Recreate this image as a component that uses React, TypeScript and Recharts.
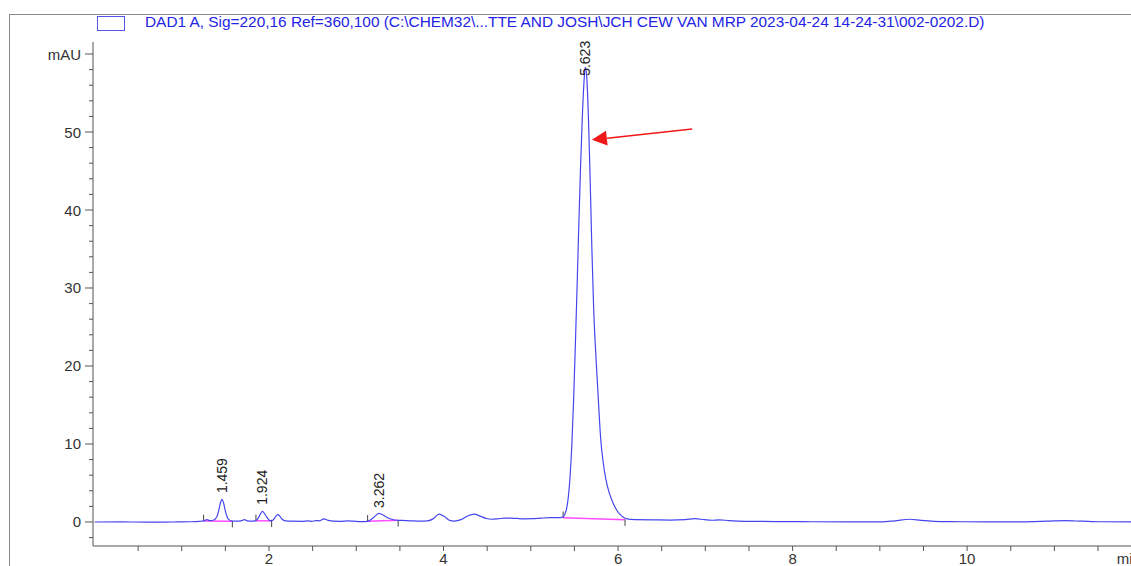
import { LineChart, Line, XAxis, YAxis, ReferenceLine, ReferenceDot } from 'recharts';

// retention time (min) and detector signal (mAU)
const times = [
  0.0, 0.3, 0.6, 0.9, 1.1, 1.2, 1.25, 1.29, 1.32, 1.36, 1.4, 1.42, 1.44, 1.46, 1.48, 1.5, 1.52, 1.54,
  1.58, 1.63, 1.68, 1.72, 1.75, 1.8, 1.85, 1.88, 1.905, 1.925, 1.95, 1.98, 2.01, 2.04, 2.07, 2.1,
  2.12, 2.15, 2.19, 2.27, 2.37, 2.45, 2.49, 2.54, 2.58, 2.63, 2.68, 2.74, 2.82, 2.9, 2.97, 3.06,
  3.13, 3.19, 3.26, 3.32, 3.38, 3.44, 3.52, 3.62, 3.72, 3.82, 3.88, 3.95, 4.01, 4.07, 4.12, 4.2,
  4.28, 4.35, 4.42, 4.49, 4.55, 4.62, 4.7, 4.76, 4.84, 4.92, 5.02, 5.12, 5.22,
  5.3, 5.36, 5.39, 5.41, 5.43, 5.45, 5.47, 5.49, 5.51, 5.53, 5.55, 5.57, 5.59, 5.61, 5.623,
  5.64, 5.66, 5.68, 5.7, 5.72, 5.74, 5.76, 5.78, 5.8, 5.83, 5.86, 5.9, 5.94, 5.98, 6.02, 6.06, 6.1,
  6.2, 6.4, 6.6, 6.77, 6.88, 6.99, 7.07, 7.16, 7.27, 7.52, 7.82, 8.22, 8.62, 9.02, 9.17, 9.34,
  9.47, 9.62, 9.82, 10.22, 10.62, 10.92, 11.12, 11.32, 11.52, 11.92, 12.2, 12.6,
];
const signal = [
  0.0, 0.01, -0.02, 0.0, 0.03, 0.08, 0.14, 0.3, 0.18, 0.22, 0.6, 1.3, 2.3, 2.9, 2.4, 1.4, 0.65, 0.3,
  0.12, 0.1, 0.15, 0.3, 0.15, 0.1, 0.18, 0.55, 1.1, 1.35, 1.05, 0.55, 0.18, 0.2, 0.6, 0.95,
  0.8, 0.35, 0.15, 0.1, 0.08, 0.15, 0.08, 0.18, 0.15, 0.4, 0.2, 0.1, 0.08, 0.15, 0.1, 0.05,
  0.08, 0.5, 1.1, 0.8, 0.45, 0.25, 0.2, 0.15, 0.1, 0.15, 0.4, 1.0, 0.7, 0.2, 0.12, 0.3,
  0.8, 1.0, 0.75, 0.45, 0.35, 0.4, 0.5, 0.5, 0.45, 0.4, 0.42, 0.5, 0.55,
  0.55, 0.6, 1.0, 1.7, 3.2, 5.8, 9.8, 15.5, 22.5, 30.0, 38.0, 45.5, 51.8, 56.5, 58.3,
  57.2, 52.0, 44.0, 35.0, 27.5, 22.5, 18.5, 14.5, 10.8, 7.6, 5.5, 3.7, 2.5, 1.6, 1.0, 0.6, 0.4,
  0.3, 0.28, 0.25, 0.3, 0.42, 0.3, 0.22, 0.28, 0.18, 0.08, 0.05, 0.03, 0.02, 0.02, 0.15, 0.35,
  0.2, 0.08, 0.04, 0.02, 0.02, 0.1, 0.17, 0.1, 0.03, 0.02, 0.02, 0.02,
];

// integrated peaks
const peakTimes = [1.459, 1.924, 3.262, 5.623];
const peakLabels = ['1.459', '1.924', '3.262', '5.623'];
const peakLabelBase = [3.7, 2.2, 1.8, 57.2];
const baseStartT = [1.25, 1.85, 3.13, 5.37];
const baseStartV = [0.12, 0.15, 0.08, 0.55];
const baseEndT = [1.58, 2.03, 3.48, 6.08];
const baseEndV = [0.1, 0.15, 0.22, 0.3];

// axis ticks
const xTicks = [0.5, 1, 1.5, 2, 2.5, 3, 3.5, 4, 4.5, 5, 5.5, 6, 6.5, 7, 7.5, 8, 8.5, 9, 9.5, 10, 10.5, 11, 11.5, 12];
const yTicks = [-2, 0, 2, 4, 6, 8, 10, 12, 14, 16, 18, 20, 22, 24, 26, 28, 30, 32, 34, 36, 38, 40, 42, 44, 46, 48, 50, 52, 54, 56, 58, 60];

// red arrow annotation: tail -> tip
const arrowTail = { x: 6.85, y: 50.4 };
const arrowBase = { x: 5.874, y: 49.2 };
const arrowTip = { x: 5.7, y: 49.0 };

const title = 'DAD1 A, Sig=220,16 Ref=360,100 (C:\\CHEM32\\...TTE AND JOSH\\JCH CEW VAN MRP 2023-04-24 14-24-31\\002-0202.D)';

const data = times.map((t, i) => ({ t, v: signal[i] }));

const FONT = '"Liberation Sans", Arial, sans-serif';
const AXIS = '#555';

const YTick = (props: any) => {
  const { x, y, payload } = props;
  const v = payload.value;
  const major = v % 10 === 0;
  const label = v === 60 ? 'mAU' : major && v >= 0 ? String(v) : '';
  return (
    <g>
      <line x1={x - (major ? 8 : 4)} x2={x} y1={y} y2={y} stroke={AXIS} />
      {label && (
        <text x={x - 12} y={y} textAnchor="end" dominantBaseline="central" fontSize={15} fontFamily={FONT} fill="#333">
          {label}
        </text>
      )}
    </g>
  );
};

const XTick = (props: any) => {
  const { x, y, payload } = props;
  const v = payload.value;
  const isUnit = v === 12;
  const label = isUnit ? 'min' : v % 2 === 0 ? String(v) : '';
  return (
    <g>
      <line x1={x} x2={x} y1={y} y2={y + 5} stroke={AXIS} />
      {label && (
        <text x={isUnit ? x - 25 : x} y={y + 18} textAnchor={isUnit ? 'start' : 'middle'} fontSize={15} fontFamily={FONT} fill="#333">
          {label}
        </text>
      )}
    </g>
  );
};

const peakLabel = (text: string) => (props: any) => (
  <text
    x={props.cx}
    y={props.cy}
    dy="0.35em"
    transform={`rotate(-90 ${props.cx} ${props.cy})`}
    fontSize={14}
    fontFamily={FONT}
    fill="#222"
  >
    {text}
  </text>
);

const arrowHead = (props: any) => (
  <polygon
    points="0,0 15,-7.5 15,7.5"
    transform={`translate(${props.cx} ${props.cy}) rotate(-6.3)`}
    fill="#f01818"
  />
);

export default function App() {
  return (
    <div style={{ position: 'absolute', left: 8, top: 8, width: 1123, height: 558, overflow: 'hidden', background: '#fff' }}>
      <LineChart width={1198} height={600} data={data} margin={{ top: 34, right: 12, left: 0, bottom: 32 }}>
        <XAxis
          dataKey="t"
          type="number"
          domain={[-0.017, 12.6]}
          ticks={xTicks}
          interval={0}
          tickSize={0}
          tickMargin={0}
          tick={XTick}
          stroke={AXIS}
          height={30}
          allowDataOverflow
        />
        <YAxis
          type="number"
          domain={[-3.08, 61.54]}
          ticks={yTicks}
          interval={0}
          tickSize={0}
          tickMargin={0}
          tick={YTick}
          stroke={AXIS}
          width={85}
          allowDataOverflow
        />
        {peakTimes.map((t, i) => (
          <ReferenceLine
            key={`b${i}`}
            segment={[{ x: baseStartT[i], y: baseStartV[i] }, { x: baseEndT[i], y: baseEndV[i] }]}
            stroke="#ff4dff"
            strokeWidth={1.5}
          />
        ))}
        {peakTimes.map((t, i) => (
          <ReferenceLine
            key={`s${i}`}
            segment={[{ x: baseStartT[i], y: baseStartV[i] }, { x: baseStartT[i], y: baseStartV[i] + 0.8 }]}
            stroke="#444"
          />
        ))}
        {peakTimes.map((t, i) => (
          <ReferenceLine
            key={`e${i}`}
            segment={[{ x: baseEndT[i], y: baseEndV[i] }, { x: baseEndT[i], y: baseEndV[i] - 0.8 }]}
            stroke="#444"
          />
        ))}
        <Line
          type="monotone"
          dataKey="v"
          stroke="#4646f0"
          strokeWidth={1.2}
          dot={false}
          activeDot={false}
          isAnimationActive={false}
        />
        {peakTimes.map((t, i) => (
          <ReferenceDot key={`p${i}`} x={t} y={peakLabelBase[i]} r={0} shape={peakLabel(peakLabels[i])} />
        ))}
        <ReferenceLine segment={[arrowTail, arrowBase]} stroke="#f01818" strokeWidth={1.5} />
        <ReferenceDot x={arrowTip.x} y={arrowTip.y} r={0} shape={arrowHead} />
      </LineChart>
      <div
        style={{
          position: 'absolute',
          left: 1,
          top: 6,
          width: 2000,
          height: 1000,
          borderLeft: '1px solid #8a8a8a',
          borderTop: '1px solid #8a8a8a',
          pointerEvents: 'none',
        }}
      />
      <div
        style={{
          position: 'absolute',
          left: 89,
          top: 8,
          width: 26,
          height: 13,
          border: '1px solid #5555ee',
        }}
      />
      <div
        style={{
          position: 'absolute',
          left: 137,
          top: 6,
          fontFamily: FONT,
          fontSize: 15.4,
          lineHeight: '15px',
          color: '#2323e6',
          whiteSpace: 'nowrap',
        }}
      >
        {title}
      </div>
    </div>
  );
}
